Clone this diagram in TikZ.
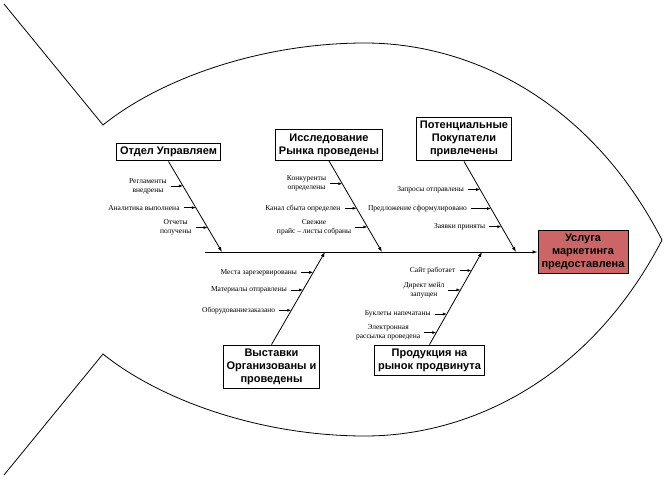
\documentclass[tikz,border=0pt]{standalone}
\usepackage{fontspec}
\setmainfont{Liberation Serif}
\setsansfont{Liberation Sans}
\usetikzlibrary{arrows.meta, calc, positioning}
\definecolor{resultred}{RGB}{204,102,102}

\begin{document}
\begin{tikzpicture}[
    x=1pt, y=-1pt,
    block/.style={draw, line width=1pt, fill=white, rectangle, inner xsep=3.5pt, inner ysep=4pt, align=center, font=\sffamily\bfseries\fontsize{11}{13}\selectfont},
    cause/.style={inner xsep=4pt, inner ysep=0pt, align=center, font=\fontsize{7.5}{9}\selectfont},
    arrow/.style={-{Latex[length=4pt, width=3pt]}, line width=0.7pt},
    bone/.style={-{Latex[length=5pt, width=3.5pt]}, line width=0.8pt}
]
\useasboundingbox (0,0) rectangle (665,480);

% Fish outline
\draw[line width=0.8pt] (4,4) -- (103,125) .. controls (160,79) and (260,43) .. (365,43)
    .. controls (470,43) and (590,100) .. (662,240)
    .. controls (590,379) and (470,436) .. (365,436)
    .. controls (260,436) and (160,400) .. (103,354) -- (4,475);

% Head
\node[block, fill=resultred] (service) at (583,252) {Услуга\\маркетинга\\предоставлена};

% Spine
\coordinate (spine) at (205,252);
\draw[bone] (spine) -- (service);

% Category boxes
\node[block] (mgmt) at (168.5,152) {Отдел Управляем};
\node[block] (research) at (329,145) {Исследование\\Рынка проведены};
\node[block] (buyers) at (464,139) {Потенциальные\\Покупатели\\привлечены};
\node[block] (expo) at (271.5,367) {Выставки\\Организованы и\\проведены};
\node[block] (promo) at (429.5,360.5) {Продукция на\\рынок продвинута};

% Bones
\coordinate (mgmttip) at (222,252);
\coordinate (researchtip) at (382,252);
\coordinate (buyerstip) at (516,252);
\coordinate (expotip) at (325,252);
\coordinate (promotip) at (482,252);
\draw[bone] (mgmt.south) -- (mgmttip);
\draw[bone] (research.south) -- (researchtip);
\draw[bone] (buyers.south) -- (buyerstip);
\draw[bone] (expo.north) -- (expotip);
\draw[bone] (promo.north) -- (promotip);

% Causes: management
\coordinate (m1) at ($(mgmt.south)!0.27!(mgmttip)$);
\coordinate (m2) at ($(mgmt.south)!0.51!(mgmttip)$);
\coordinate (m3) at ($(mgmt.south)!0.73!(mgmttip)$);
\node[cause, left=12pt of m1] (m1l) {Регламенты\\внедрены};
\node[cause, left=12pt of m2] (m2l) {Аналитика выполнена};
\node[cause, left=12pt of m3] (m3l) {Отчеты\\получены};
\draw[arrow] (m1l) -- (m1);
\draw[arrow] (m2l) -- (m2);
\draw[arrow] (m3l) -- (m3);

% Causes: research
\coordinate (r1) at ($(research.south)!0.25!(researchtip)$);
\coordinate (r2) at ($(research.south)!0.52!(researchtip)$);
\coordinate (r3) at ($(research.south)!0.725!(researchtip)$);
\node[cause, left=12pt of r1] (r1l) {Конкуренты\\определены};
\node[cause, left=12pt of r2] (r2l) {Канал сбыта определен};
\node[cause, left=12pt of r3] (r3l) {Свежие\\прайс – листы собраны};
\draw[arrow] (r1l) -- (r1);
\draw[arrow] (r2l) -- (r2);
\draw[arrow] (r3l) -- (r3);

% Causes: buyers
\coordinate (b1) at ($(buyers.south)!0.31!(buyerstip)$);
\coordinate (b2) at ($(buyers.south)!0.52!(buyerstip)$);
\coordinate (b3) at ($(buyers.south)!0.72!(buyerstip)$);
\node[cause, left=12pt of b1] (b1l) {Запросы отправлены};
\node[cause, left=20pt of b2] (b2l) {Предложение сформулировано};
\node[cause, left=12pt of b3] (b3l) {Заявки приняты};
\draw[arrow] (b1l) -- (b1);
\draw[arrow] (b2l) -- (b2);
\draw[arrow] (b3l) -- (b3);

% Causes: exhibitions
\coordinate (e1) at ($(expo.north)!0.78!(expotip)$);
\coordinate (e2) at ($(expo.north)!0.59!(expotip)$);
\coordinate (e3) at ($(expo.north)!0.37!(expotip)$);
\node[cause, left=12pt of e1] (e1l) {Места зарезервированы};
\node[cause, left=12pt of e2] (e2l) {Материалы отправлены};
\node[cause, left=12pt of e3] (e3l) {Оборудованиезаказано};
\draw[arrow] (e1l) -- (e1);
\draw[arrow] (e2l) -- (e2);
\draw[arrow] (e3l) -- (e3);

% Causes: promotion
\coordinate (p1) at ($(promo.north)!0.80!(promotip)$);
\coordinate (p2) at ($(promo.north)!0.59!(promotip)$);
\coordinate (p3) at ($(promo.north)!0.33!(promotip)$);
\coordinate (p4) at ($(promo.north)!0.13!(promotip)$);
\node[cause, left=12pt of p1] (p1l) {Сайт работает};
\node[cause, left=12pt of p2] (p2l) {Директ мейл\\запущен};
\node[cause, left=12pt of p3] (p3l) {Буклеты напечатаны};
\node[cause, left=12pt of p4] (p4l) {Электронная\\рассылка проведена};
\draw[arrow] (p1l) -- (p1);
\draw[arrow] (p2l) -- (p2);
\draw[arrow] (p3l) -- (p3);
\draw[arrow] (p4l) -- (p4);

\end{tikzpicture}
\end{document}
